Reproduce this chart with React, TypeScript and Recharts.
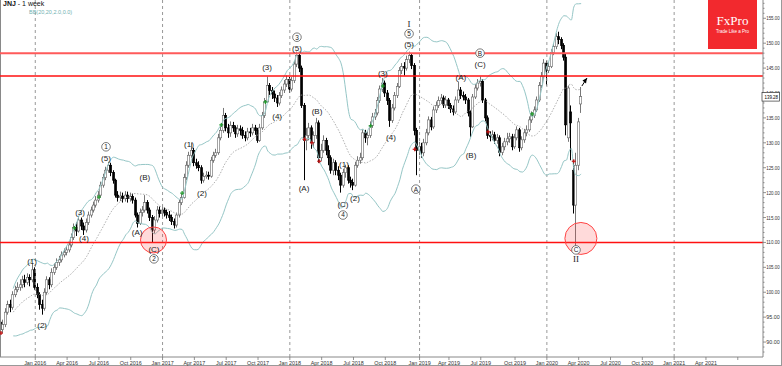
import React from "react";
import {
  ComposedChart,
  Bar,
  Line,
  Scatter,
  XAxis,
  YAxis,
  ReferenceLine,
  ReferenceDot,
} from "recharts";

// weekly JNJ candles, first bar = week of 28 Sep 2015
const START = Date.UTC(2015, 8, 28);
const firstOpen = 94;

const closes = [
  92.5, 93.5, 96, 97.5, 97, 99.5, 100.5, 101, 101.5, 102.5,
  102, 103, 102.5, 104.5, 101, 99.5, 97.5, 96.8, 100, 102.5,
  101.5, 104, 105, 106, 106.5, 107.5, 108, 108.5, 109.5, 111,
  113, 112.3, 114.5, 113.3, 112.5, 114, 115.5, 116.5, 117.5, 118.5,
  119.5, 121.5, 123, 124.5, 125.5, 124, 122.5, 119.5, 119, 119.3,
  118.8, 119.5, 118.8, 119.2, 118.5, 115.5, 113.8, 116, 116.5, 118,
  116.5, 115, 112.5, 114.5, 116.5, 115.8, 116.5, 116, 115.5, 115,
  114.2, 113.5, 115.5, 118, 119, 123, 125.5, 127.5, 128.5, 126,
  125.5, 125, 122.5, 123.2, 123.5, 123.3, 126.5, 127.5, 128, 131,
  132.5, 135.5, 133, 132, 133.5, 133, 131.8, 132.8, 132.5, 131.5,
  131, 132.2, 132, 133, 132.5, 130.5, 133, 135.5, 138.2, 141.5,
  140.5, 139.8, 139, 138, 139.5, 140.6, 141.8, 142.7, 140.8, 142.5,
  145.8, 147.5, 145, 137.5, 130.5, 131.5, 133, 130, 131.5, 134,
  127, 128.5, 130.5, 128.5, 127, 124.5, 126, 124.5, 123.5, 121.5,
  124, 125, 122.5, 122, 121.5, 125.5, 126.5, 127, 132, 131,
  131.5, 133.5, 135.2, 136, 138.5, 140.8, 142, 140, 138.5, 134.5,
  137, 139.5, 141.3, 144.5, 145.3, 145, 146.7, 147.5, 145.5, 132.5,
  128.5, 129.2, 128, 130, 132, 134.6, 133.2, 136.6, 137.5, 138.5,
  139, 137.6, 138.6, 137.5, 136.8, 136.2, 138.6, 140.6, 139.5, 139.2,
  138.6, 136, 133.2, 139.2, 141, 142, 142.3, 138.6, 135, 131.5,
  131.2, 131.6, 130.5, 131, 128.1, 129.2, 130.2, 130.8, 131.2, 129.2,
  131, 132.6, 129, 130.6, 132, 132.6, 134.6, 135.5, 136.6, 138.6,
  141.5, 143.3, 146, 144.5, 145.3, 148.1, 149.3, 151.3, 150.7, 149.5,
  147.2, 133.6, 141, 134, 117.5, 125.5, 134.2, 139.28,
];

const highs = [
  95, 94.5, 96.8, 98.3, 98.5, 100.2, 101.3, 102, 102.6, 103.3,
  103.5, 103.8, 103.6, 105.8, 105, 101.8, 100, 98.5, 100.8, 103.2,
  103, 104.8, 105.8, 106.8, 107.3, 108.2, 108.8, 109.3, 110.2, 111.8,
  113.8, 114, 115.3, 115, 114, 114.8, 116.2, 117.2, 118.2, 119.3,
  120.3, 122.2, 123.8, 125.2, 126.2, 126, 124.5, 122.8, 120.3, 120.2,
  120, 120.3, 120.2, 120, 119.8, 119, 116, 116.8, 117.3, 119.5,
  118.5, 117, 115.5, 115.3, 117.3, 117.2, 117.5, 117, 116.6, 116.3,
  115.6, 114.8, 116, 118.6, 119.8, 123.8, 126.3, 128.2, 130, 129,
  126.8, 126.3, 125.5, 124, 124.3, 124.2, 127.2, 128.2, 128.8, 131.8,
  133.3, 137, 136, 133.8, 134.3, 134.2, 133.5, 133.6, 133.5, 133.2,
  132.3, 133, 133, 133.8, 133.6, 133, 133.8, 136.2, 139, 143.3,
  142, 141.2, 140.5, 139.6, 140.2, 141.3, 142.6, 143.5, 143.2, 143.2,
  146.5, 148.3, 148, 145.5, 138, 133, 134, 133.5, 132.3, 135,
  134.5, 129.8, 131.5, 131, 129.5, 127.5, 126.8, 126.5, 125.3, 124,
  124.8, 125.6, 125.5, 123.2, 122.8, 126.2, 127.3, 128, 132.8, 132.6,
  132.3, 134.3, 136, 136.8, 139.2, 141.5, 143, 142.5, 140.6, 139,
  137.8, 140.2, 142, 145.2, 146, 146.2, 147.5, 148.3, 148, 146,
  133, 130.2, 130, 130.8, 132.8, 135.3, 135.2, 137.3, 138.3, 139.3,
  139.8, 139.5, 139.4, 139, 138, 137.5, 139.3, 142.3, 141.2, 140.3,
  139.8, 139, 136.5, 139.8, 141.8, 142.8, 143.3, 142.8, 139, 135.5,
  132.3, 132.5, 132.2, 131.8, 131.5, 130, 131, 132, 132, 131.8,
  131.8, 133.3, 133, 131.3, 132.8, 133.5, 135.3, 136.3, 137.3, 139.3,
  142.2, 144.2, 146.8, 146.5, 146.2, 148.8, 150, 152, 152.3, 151.2,
  150, 148, 141.5, 137.5, 126.5, 128, 135, 141.2,
];

const lows = [
  91.5, 91.8, 93, 95.5, 96, 96.5, 99, 100, 100.3, 100.8,
  101, 101.5, 101.2, 102, 100.5, 98.8, 96.5, 95.5, 96.3, 99.5,
  100.6, 101, 103.5, 104.5, 105.3, 106, 107, 107.4, 108, 109,
  110.5, 111.3, 112, 112.5, 111.5, 112, 113.5, 115, 116, 117,
  118, 119, 121, 122.5, 124, 123.3, 121.8, 119, 118.2, 118.3,
  118, 118.2, 118, 118.2, 117.8, 115, 113, 113.5, 115.2, 116,
  115.8, 114.3, 110, 111.8, 114, 115, 115.2, 115.2, 114.8, 114.3,
  113.5, 112.8, 113, 115, 117.5, 118.8, 122.5, 125, 127, 125.3,
  124.8, 124.3, 121.8, 122, 122.8, 122.6, 123, 126, 127, 127.6,
  130.5, 132, 132.3, 131, 131.2, 132.2, 131, 131.2, 131.5, 130.8,
  130.3, 130.5, 131.2, 131.5, 131.6, 130, 130.2, 132.6, 135, 138,
  139.6, 138.8, 138.2, 137.2, 137.5, 139, 140, 141.2, 140, 140.3,
  142, 145.2, 144.2, 137, 122.5, 128.5, 130.5, 128.8, 129, 130.8,
  126, 126.3, 128, 127.5, 125.5, 123.8, 123.5, 123.5, 122.5, 120,
  121, 123, 121.8, 121, 120.5, 121.2, 125, 125.8, 126.5, 130,
  129.5, 131, 133, 134.6, 135.5, 138, 140.2, 139.2, 137.6, 133.2,
  134, 136.5, 139, 141, 143.8, 143.5, 144.5, 146, 144.8, 131.5,
  123.5, 127.5, 127, 127.3, 129.5, 131.5, 132.5, 132.8, 136, 137,
  137.8, 137, 137, 136.8, 136, 135.5, 135.8, 138, 138.8, 138.5,
  137.8, 135.3, 131.2, 133, 138.8, 140.5, 141.3, 138, 134.3, 130.8,
  130.3, 130.5, 129.8, 129.8, 127.3, 127.5, 128.5, 129.5, 130, 128.5,
  128.8, 130.5, 128.2, 128.5, 130, 131.3, 132.2, 134, 135, 136.2,
  138.2, 141, 142.8, 141.5, 144, 145, 147.6, 148.8, 149.8, 148.8,
  146.5, 131.5, 130.2, 126.5, 115.8, 109.2, 124.5, 136,
];

// weeks that opened away from the previous close
const openGaps: Record<number, number> = { 232: 131, 233: 136.2, 234: 124.5, 237: 137.8 };

const xTickLabels = [
  "Jan 2016", "Apr 2016", "Jul 2016", "Oct 2016",
  "Jan 2017", "Apr 2017", "Jul 2017", "Oct 2017",
  "Jan 2018", "Apr 2018", "Jul 2018", "Oct 2018",
  "Jan 2019", "Apr 2019", "Jul 2019", "Oct 2019",
  "Jan 2020", "Apr 2020", "Jul 2020", "Oct 2020",
  "Jan 2021", "Apr 2021", "Jul 2021",
];

const levels = [148, 143.4, 110];
const lastPrice = 139.28;

const greenMarks = [
  { i: 30, p: 112.9 }, { i: 40, p: 119.1 }, { i: 74, p: 119.9 }, { i: 90, p: 133.6 },
  { i: 108, p: 138.2 }, { i: 151, p: 133.4 }, { i: 156, p: 141.4 }, { i: 217, p: 135.8 },
];
const redMarks = [
  { i: 0, p: 91.8 }, { i: 124, p: 130.7 }, { i: 127, p: 130 }, { i: 130, p: 126.3 },
  { i: 169, p: 128.7 }, { i: 199, p: 132.2 }, { i: 234, p: 126.3 },
];

// wave labels: t = text, c = circled, r = roman
const waveLabels = [
  { i: 12.7, p: 106.3, t: "(1)" }, { i: 16.8, p: 93.4, t: "(2)" },
  { i: 32.3, p: 116.1, t: "(3)" }, { i: 33.9, p: 110.9, t: "(4)" },
  { i: 42.9, p: 129.2, t: "1", c: true }, { i: 42.9, p: 127.0, t: "(5)" },
  { i: 55.6, p: 112.1, t: "(A)" }, { i: 58.8, p: 123.1, t: "(B)" },
  { i: 62.5, p: 108.7, t: "(C)" }, { i: 62.5, p: 106.7, t: "2", c: true },
  { i: 76.8, p: 129.8, t: "(1)" }, { i: 82.1, p: 119.9, t: "(2)" },
  { i: 108.7, p: 145.2, t: "(3)" }, { i: 112.8, p: 135.4, t: "(4)" },
  { i: 120.9, p: 151.2, t: "3", c: true }, { i: 120.9, p: 149.0, t: "(5)" },
  { i: 123.8, p: 120.9, t: "(A)" }, { i: 129.1, p: 136.4, t: "(B)" },
  { i: 140.1, p: 125.7, t: "(1)" }, { i: 139.7, p: 117.7, t: "(C)" },
  { i: 139.7, p: 115.5, t: "4", c: true }, { i: 144.6, p: 118.9, t: "(2)" },
  { i: 156.0, p: 144.0, t: "(3)" }, { i: 159.3, p: 131.2, t: "(4)" },
  { i: 166.7, p: 153.9, t: "I", r: true }, { i: 166.7, p: 151.9, t: "5", c: true },
  { i: 166.7, p: 149.8, t: "(5)" }, { i: 169.5, p: 120.7, t: "A", c: true },
  { i: 187.9, p: 143.2, t: "(A)" }, { i: 195.7, p: 148.0, t: "B", c: true },
  { i: 195.7, p: 145.8, t: "(C)" }, { i: 192.0, p: 127.6, t: "(B)" },
  { i: 234.9, p: 108.5, t: "C", c: true }, { i: 234.9, p: 106.7, t: "II", r: true },
];

const arrowPath = [{ i: 237.3, p: 141.4 }, { i: 239.4, p: 143.0, head: true }];
const circles = [{ i: 62.3, p: 110.5, r: 13 }, { i: 236.9, p: 110.8, r: 16 }];

const W = 782;
const H = 366;
const X_MIN = -0.41;
const X_MAX = 311.3;
const Y_MIN = 87;
const Y_MAX = 158.67;

const DAY = 86400000;
const monthIdx: Record<string, number> = { Jan: 0, Apr: 3, Jul: 6, Oct: 9 };
const xTicks = xTickLabels.map((s) => {
  const [m, y] = s.split(" ");
  return Math.ceil((Date.UTC(+y, monthIdx[m], 1) - START) / (7 * DAY));
});
const xLabelAt: Record<number, string> = {};
xTicks.forEach((t, k) => (xLabelAt[t] = xTickLabels[k]));
const yearLines = xTicks.filter((_, k) => xTickLabels[k].startsWith("Jan"));

const yTicks: number[] = [];
for (let v = 88; v <= 158; v++) yTicks.push(v);
yTicks.push(lastPrice);

const data = closes.map((c, i) => {
  const o = openGaps[i] ?? (i === 0 ? firstOpen : closes[i - 1]);
  const row: any = { i, o, h: highs[i], l: lows[i], c };
  if (i >= 5) {
    const win = closes.slice(Math.max(0, i - 19), i + 1);
    const m = win.reduce((a, b) => a + b, 0) / win.length;
    const sd = Math.sqrt(win.reduce((a, b) => a + (b - m) ** 2, 0) / win.length);
    row.mid = m;
    row.upper = m + 2 * sd;
    row.lower = m - 2 * sd;
  }
  return row;
});

function Candle(props: any) {
  const { x, y, width, height, payload } = props;
  if (x == null || !payload) return null;
  const { o, h, l, c } = payload;
  const top = Math.min(y, y + height);
  const bot = Math.max(y, y + height);
  const py = (v: number) => (h === l ? top : top + ((h - v) / (h - l)) * (bot - top));
  const X = Math.round(x + width / 2);
  const up = c >= o;
  const bTop = py(Math.max(o, c));
  const bH = Math.max(1, py(Math.min(o, c)) - bTop);
  return (
    <g>
      <line x1={X - 0.5} x2={X - 0.5} y1={top} y2={bot} stroke={up ? "#777" : "#000"} strokeWidth={1} />
      <rect
        x={X - 1.5}
        y={bTop}
        width={2.2}
        height={bH}
        fill={up ? "#fff" : "#000"}
        stroke={up ? "#666" : "#000"}
        strokeWidth={0.6}
      />
    </g>
  );
}

function Plus({ cx, cy, color }: any) {
  if (cx == null) return null;
  return (
    <g stroke={color} strokeWidth={1.2}>
      <line x1={cx - 2} x2={cx + 2} y1={cy} y2={cy} />
      <line x1={cx} x2={cx} y1={cy - 2} y2={cy + 2} />
    </g>
  );
}

function WaveLabel({ cx, cy, payload }: any) {
  if (cx == null) return null;
  if (payload.c) {
    return (
      <g>
        <circle cx={cx} cy={cy} r={4.3} fill="#fff" stroke="#444" strokeWidth={0.7} />
        <text x={cx} y={cy + 2.4} textAnchor="middle" fontSize={6.5} fill="#222" fontFamily="Liberation Sans, Arial">
          {payload.t}
        </text>
      </g>
    );
  }
  return (
    <text
      x={cx}
      y={cy + 2.8}
      textAnchor="middle"
      fontSize={payload.r ? 9 : 8}
      fill="#222"
      fontFamily={payload.r ? "Liberation Serif, serif" : "Liberation Sans, Arial"}
    >
      {payload.t}
    </text>
  );
}

function ArrowHead({ cx, cy, payload }: any) {
  if (cx == null || !payload.head) return <g />;
  return <polygon points={`${cx},${cy} ${cx - 4.5},${cy + 2.5} ${cx - 1},${cy + 5.5}`} fill="#000" />;
}

function YTick({ x, y, payload }: any) {
  const v = payload.value;
  if (v === lastPrice) {
    return (
      <g>
        <rect x={x - 1} y={y - 4} width={17.5} height={8.5} fill="#fff" stroke="#333" strokeWidth={0.7} />
        <text
          x={x + 1.5}
          y={y + 2.4}
          fontSize={5.2}
          fill="#000"
          fontFamily="Liberation Sans, Arial"
          textLength={13.5}
          lengthAdjust="spacingAndGlyphs"
        >
          {v.toFixed(2)}
        </text>
      </g>
    );
  }
  const major = v % 5 === 0;
  return (
    <g>
      <line x1={x} x2={x + (major ? 3 : 1.5)} y1={y} y2={y} stroke="#777" strokeWidth={0.8} />
      {major && (
        <text
          x={x + 3.2}
          y={y + 2}
          fontSize={5.3}
          fill="#333"
          fontFamily="Liberation Sans, Arial"
          textLength={13.5}
          lengthAdjust="spacingAndGlyphs"
        >
          {v.toFixed(2)}
        </text>
      )}
    </g>
  );
}

function XTick({ x, y, payload }: any) {
  const label = xLabelAt[payload.value] || "";
  return (
    <g>
      <line x1={x} x2={x} y1={y} y2={y + 3} stroke="#777" strokeWidth={0.8} />
      {x < 725 && (
        <text x={x} y={y + 8} textAnchor="middle" fontSize={5.4} fill="#333" fontFamily="Liberation Sans, Arial">
          {label}
        </text>
      )}
    </g>
  );
}

export default function App() {
  return (
    <div
      style={{
        position: "absolute",
        left: 0,
        top: 0,
        width: W,
        height: H,
        background: "#fff",
        boxSizing: "border-box",
        borderRight: "1px solid #999",
        borderBottom: "1px solid #999",
        fontFamily: "Liberation Sans, Arial, sans-serif",
      }}
    >
      <ComposedChart width={W} height={H} data={data} margin={{ top: 0, right: 0, bottom: 0, left: 0 }}>
        <XAxis
          dataKey="i"
          type="number"
          domain={[X_MIN, X_MAX]}
          allowDataOverflow
          ticks={xTicks}
          interval={0}
          height={9}
          tickSize={0}
          tickMargin={0}
          tickLine={false}
          axisLine={{ stroke: "#888" }}
          tick={<XTick />}
        />
        <YAxis
          orientation="right"
          type="number"
          domain={[Y_MIN, Y_MAX]}
          allowDataOverflow
          ticks={yTicks}
          interval={0}
          width={19}
          tickSize={0}
          tickMargin={0}
          tickLine={false}
          axisLine={{ stroke: "#888" }}
          tick={<YTick />}
        />
        <ReferenceLine x={X_MIN + 0.2} stroke="#888" />
        {yearLines.map((t) => (
          <ReferenceLine key={t} x={t} stroke="#999" strokeDasharray="3 3" />
        ))}
        <Line dataKey="upper" stroke="#95c6c6" strokeWidth={1} dot={false} type="monotone" isAnimationActive={false} />
        <Line dataKey="lower" stroke="#95c6c6" strokeWidth={1} dot={false} type="monotone" isAnimationActive={false} />
        <Line
          dataKey="mid"
          stroke="#9a9a9a"
          strokeWidth={0.8}
          strokeDasharray="1.5 1.5"
          dot={false}
          type="monotone"
          isAnimationActive={false}
        />
        <Bar dataKey={(d: any) => [d.l, d.h]} barSize={2} shape={<Candle />} isAnimationActive={false} />
        <ReferenceLine y={levels[0]} stroke="#ff5a5a" strokeWidth={2} />
        <ReferenceLine y={levels[1]} stroke="#ff1010" strokeWidth={1.5} />
        <ReferenceLine y={levels[2]} stroke="#ff1010" strokeWidth={1.5} />
        {circles.map((c, k) => (
          <ReferenceDot
            key={k}
            x={c.i}
            y={c.p}
            r={c.r}
            fill="rgba(255,70,70,0.2)"
            stroke="#f44"
            strokeWidth={1}
          />
        ))}
        <Scatter data={greenMarks} dataKey="p" shape={<Plus color="#1f9a2a" />} isAnimationActive={false} />
        <Scatter data={redMarks} dataKey="p" shape={<Plus color="#c41010" />} isAnimationActive={false} />
        <Scatter
          data={arrowPath}
          dataKey="p"
          line={{ stroke: "#000", strokeWidth: 1 }}
          shape={<ArrowHead />}
          isAnimationActive={false}
        />
        <Scatter data={waveLabels} dataKey="p" shape={<WaveLabel />} isAnimationActive={false} />
      </ComposedChart>

      <div style={{ position: "absolute", left: 3, top: 0, fontSize: 7, color: "#111", whiteSpace: "nowrap" }}>
        <b>JNJ</b> - 1 week
      </div>
      <div style={{ position: "absolute", left: 29, top: 9, fontSize: 5.5, color: "#6fb0b0", whiteSpace: "nowrap" }}>
        BB(20,20,2.0,0.0)
      </div>
      <div
        style={{
          position: "absolute",
          left: 708,
          top: 0,
          width: 49,
          height: 49,
          background: "#f2292e",
          color: "#fff",
          textAlign: "center",
        }}
      >
        <div style={{ fontFamily: "Liberation Serif, serif", fontSize: 13, marginTop: 14, lineHeight: "14px" }}>FxPro</div>
        <div style={{ fontSize: 4.5, lineHeight: "6px", marginTop: 1 }}>Trade Like a Pro</div>
      </div>
    </div>
  );
}
